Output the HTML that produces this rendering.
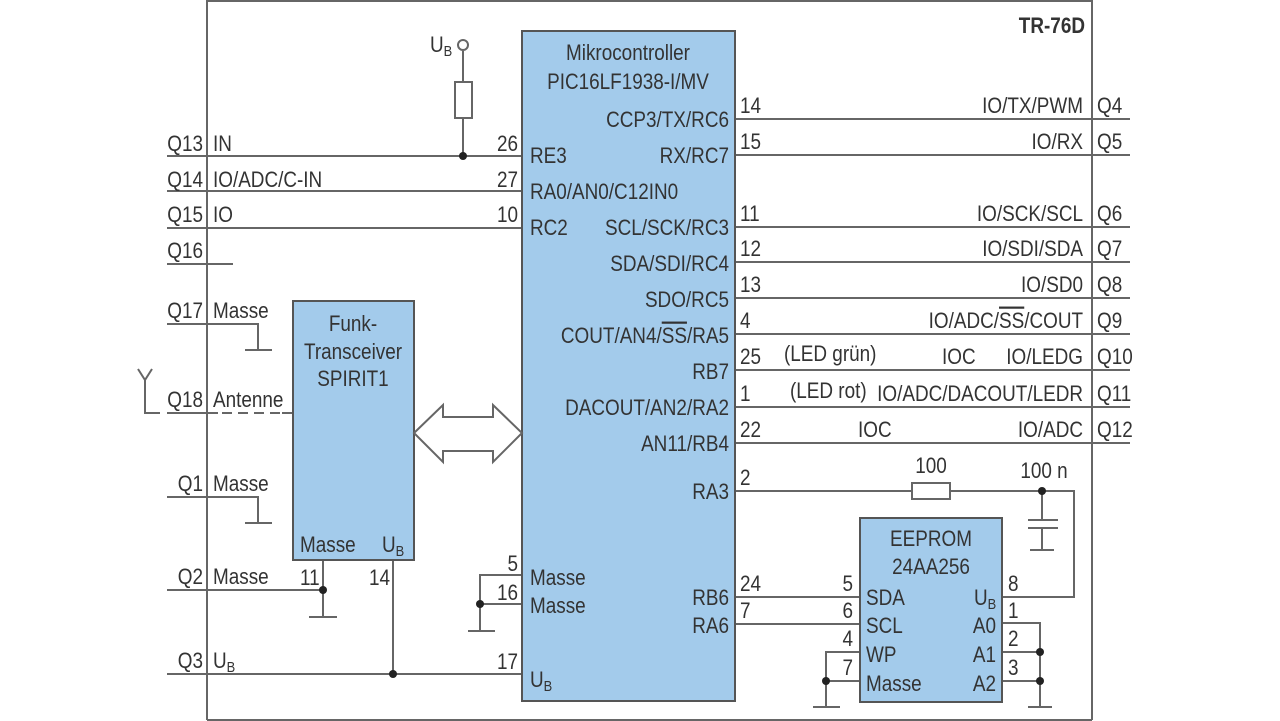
<!DOCTYPE html>
<html><head><meta charset="utf-8"><style>
html,body{margin:0;padding:0;background:#fff;}
svg{display:block}
text{font-family:"Liberation Sans Narrow","Liberation Sans",sans-serif;font-size:22px;fill:#333;transform-box:fill-box;transform-origin:left center;transform:scaleX(0.86);}
text.e{text-anchor:end;transform-origin:right center}
text.m{text-anchor:middle;transform-origin:center center}
.o{text-decoration:overline}
</style></head><body>
<svg width="1280" height="721" viewBox="0 0 1280 721" xmlns="http://www.w3.org/2000/svg">
<g stroke="#666" stroke-width="2" fill="none">
<path d="M207 0 V720 M207 720 H1092 M1092 0 V720 M207 1 H1092"/>
<path d="M167 156 H522 M167 191 H522 M167 228 H522 M167 264 H233"/>
<path d="M167 324 H258 V350 M245 350 H272"/>
<path d="M167 413 H218 M293 413 H282"/>
<path d="M222 413 H290" stroke-dasharray="10,6"/>
<path d="M160 413 H145 V378 M138 369 L145 380 L152 369"/>
<path d="M167 497 H258 V523 M245 523 H272"/>
<path d="M167 590 H323 M323 560 V617 M309 617 H337"/>
<path d="M167 674 H522 M393 560 V674"/>
<path d="M463 51 V82 M463 118 V156"/>
<rect x="455" y="82" width="17" height="36"/>
<circle cx="463" cy="45" r="5"/>
<path d="M522 575 H480 V631 M468 631 H495 M480 604 H522"/>
<path d="M735 119 H1130 M735 155 H1130 M735 227 H1130 M735 262 H1130 M735 298 H1130 M735 334 H1130 M735 370 H1130 M735 407 H1130 M735 443 H1130"/>
<path d="M735 491 H912 M950 491 H1074 V597 H1002 M1042 491 V520 M1028 520 H1058 M1028 528 H1058 M1042 528 V550 M1030 550 H1054"/>
<rect x="912" y="483" width="38" height="16"/>
<path d="M735 597 H860 M735 624 H860"/>
<path d="M860 652 H826 V707 M813 707 H840 M826 681 H860"/>
<path d="M1002 623 H1040 V707 M1028 707 H1052 M1002 652 H1040 M1002 681 H1040"/>
</g>
<g fill="#222">
<circle cx="463" cy="156" r="4"/><circle cx="323" cy="590" r="4"/><circle cx="393" cy="674" r="4"/>
<circle cx="480" cy="604" r="4"/><circle cx="1042" cy="491" r="4"/><circle cx="826" cy="681" r="4"/>
<circle cx="1040" cy="652" r="4"/><circle cx="1040" cy="681" r="4"/>
</g>
<g fill="#a3cbeb" stroke="#555" stroke-width="2">
<rect x="522" y="31" width="213" height="670"/>
<rect x="293" y="301" width="121" height="259"/>
<rect x="860" y="518" width="142" height="184"/>
</g>
<path d="M414 433 L443 405 V417 H493 V405 L522 433 L493 462 V451 H443 V462 Z" fill="#fff" stroke="#666" stroke-width="2"/>
<text x="203" y="151" class="e">Q13</text><text x="213" y="151">IN</text>
<text x="203" y="187" class="e">Q14</text><text x="213" y="187">IO/ADC/C-IN</text>
<text x="203" y="222" class="e">Q15</text><text x="213" y="222">IO</text>
<text x="203" y="258" class="e">Q16</text>
<text x="203" y="318" class="e">Q17</text><text x="213" y="318">Masse</text>
<text x="203" y="407" class="e">Q18</text><text x="213" y="407">Antenne</text>
<text x="203" y="491" class="e">Q1</text><text x="213" y="491">Masse</text>
<text x="203" y="584" class="e">Q2</text><text x="213" y="584">Masse</text>
<text x="203" y="668" class="e">Q3</text><text x="213" y="668">U<tspan font-size="15" dy="4">B</tspan></text>
<text x="430" y="52">U<tspan font-size="15" dy="4">B</tspan></text>
<text x="518" y="151" class="e">26</text><text x="518" y="187" class="e">27</text><text x="518" y="222" class="e">10</text>
<text x="300" y="585">11</text><text x="369" y="585">14</text>
<text x="518" y="571" class="e">5</text><text x="518" y="600" class="e">16</text><text x="518" y="669" class="e">17</text>
<text x="353" y="331" class="m">Funk-</text><text x="353" y="359" class="m">Transceiver</text><text x="353" y="386" class="m">SPIRIT1</text>
<text x="300" y="552">Masse</text><text x="382" y="552">U<tspan font-size="15" dy="4">B</tspan></text>
<text x="628" y="60" class="m">Mikrocontroller</text><text x="628" y="89" class="m">PIC16LF1938-I/MV</text>
<text x="729" y="127" class="e">CCP3/TX/RC6</text>
<text x="530" y="163">RE3</text><text x="729" y="163" class="e">RX/RC7</text>
<text x="530" y="199">RA0/AN0/C12IN0</text>
<text x="530" y="235">RC2</text><text x="729" y="235" class="e">SCL/SCK/RC3</text>
<text x="729" y="271" class="e">SDA/SDI/RC4</text>
<text x="729" y="307" class="e">SDO/RC5</text>
<text x="729" y="343" class="e">COUT/AN4/<tspan class="o">SS</tspan>/RA5</text>
<text x="729" y="379" class="e">RB7</text>
<text x="729" y="415" class="e">DACOUT/AN2/RA2</text>
<text x="729" y="451" class="e">AN11/RB4</text>
<text x="729" y="499" class="e">RA3</text>
<text x="729" y="605" class="e">RB6</text>
<text x="729" y="633" class="e">RA6</text>
<text x="530" y="585">Masse</text><text x="530" y="613">Masse</text>
<text x="530" y="687">U<tspan font-size="15" dy="4">B</tspan></text>
<text x="1085" y="33" class="e" font-weight="bold">TR-76D</text>
<text x="740" y="113">14</text><text x="1083" y="113" class="e">IO/TX/PWM</text><text x="1097" y="113">Q4</text>
<text x="740" y="149">15</text><text x="1083" y="149" class="e">IO/RX</text><text x="1097" y="149">Q5</text>
<text x="740" y="221">11</text><text x="1083" y="221" class="e">IO/SCK/SCL</text><text x="1097" y="221">Q6</text>
<text x="740" y="256">12</text><text x="1083" y="256" class="e">IO/SDI/SDA</text><text x="1097" y="256">Q7</text>
<text x="740" y="292">13</text><text x="1083" y="292" class="e">IO/SD0</text><text x="1097" y="292">Q8</text>
<text x="740" y="328">4</text><text x="1083" y="328" class="e">IO/ADC/<tspan class="o">SS</tspan>/COUT</text><text x="1097" y="328">Q9</text>
<text x="740" y="364">25</text><text x="784" y="361">(LED grün)</text><text x="942" y="364">IOC</text><text x="1083" y="364" class="e">IO/LEDG</text><text x="1097" y="364">Q10</text>
<text x="740" y="401">1</text><text x="790" y="398">(LED rot)</text><text x="1083" y="401" class="e">IO/ADC/DACOUT/LEDR</text><text x="1097" y="401">Q11</text>
<text x="740" y="437">22</text><text x="858" y="437">IOC</text><text x="1083" y="437" class="e">IO/ADC</text><text x="1097" y="437">Q12</text>
<text x="740" y="485">2</text>
<text x="931" y="473" class="m">100</text><text x="1044" y="478" class="m">100 n</text>
<text x="931" y="546" class="m">EEPROM</text><text x="931" y="574" class="m">24AA256</text>
<text x="740" y="591">24</text><text x="740" y="618">7</text>
<text x="853" y="591" class="e">5</text><text x="853" y="618" class="e">6</text><text x="853" y="646" class="e">4</text><text x="853" y="675" class="e">7</text>
<text x="866" y="605">SDA</text><text x="866" y="633">SCL</text><text x="866" y="662">WP</text><text x="866" y="691">Masse</text>
<text x="974" y="605">U<tspan font-size="15" dy="4">B</tspan></text>
<text x="996" y="633" class="e">A0</text><text x="996" y="662" class="e">A1</text><text x="996" y="691" class="e">A2</text>
<text x="1008" y="591">8</text><text x="1008" y="618">1</text><text x="1008" y="646">2</text><text x="1008" y="675">3</text>
</svg>
</body></html>
